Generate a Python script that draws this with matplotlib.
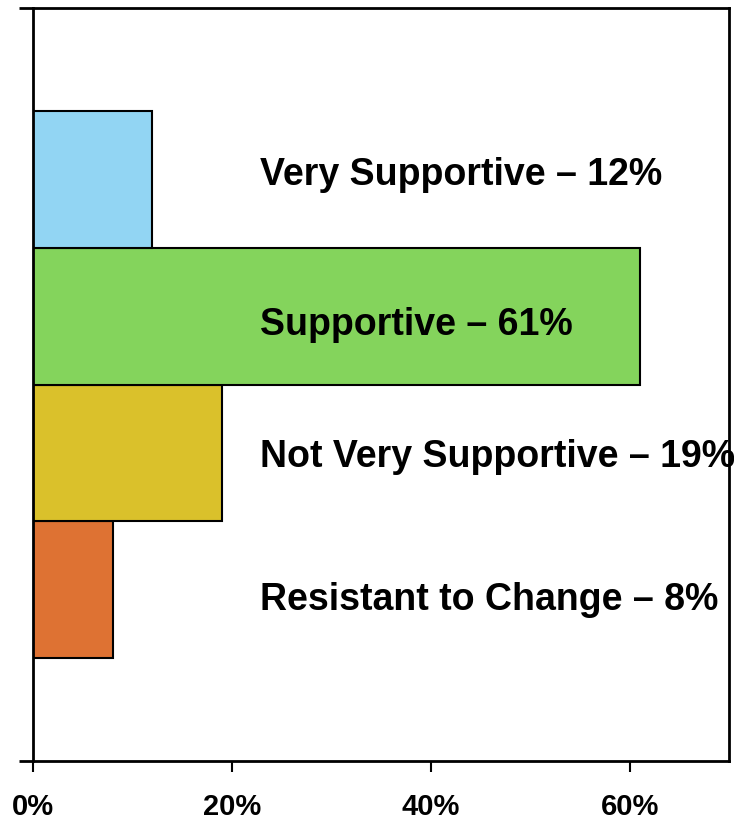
import matplotlib.pyplot as plt
import numpy as np

plt.rcParams['font.family'] = ['Liberation Sans', 'DejaVu Sans']
plt.rcParams['font.weight'] = 'bold'

# data (bottom to top)
categories = ['Resistant to Change', 'Not Very Supportive', 'Supportive', 'Very Supportive']
values = [8, 19, 61, 12]
colors = ['#DE7233', '#DAC12B', '#84D45C', '#92D5F3']
xticks = [0, 20, 40, 60]
xtick_labels = ['0%', '20%', '40%', '60%']

# small vertical nudges of the labels, as in the original
label_dy = [-0.07, -0.02, -0.06, 0.04]

fig = plt.figure(figsize=(7.34, 8.2), dpi=100)
ax = fig.add_axes([33 / 734, 58 / 820, 696 / 734, 753 / 820])

pos = np.arange(len(categories))
ax.barh(pos, values, height=1.0, color=colors, edgecolor='black', linewidth=1.5, zorder=1)

# labels to the right of the bars
for p, c, v, dy in zip(pos, categories, values, label_dy):
    ax.text(22.8, p + dy, f'{c} \u2013 {v}%', ha='left', va='center',
            fontsize=27, fontweight='bold', zorder=2)

ax.set_xlim(0, 70)
ax.set_ylim(-1.25, 4.25)
ax.set_xticks(xticks)
ax.set_xticklabels(xtick_labels, fontsize=21, fontweight='bold')
ax.set_yticks([-1.25, 4.25])
ax.set_yticklabels([])
ax.tick_params(axis='x', direction='out', length=8, width=1.5, pad=14)
ax.tick_params(axis='y', direction='out', length=10, width=2)
for s in ax.spines.values():
    s.set_linewidth(2)
    s.set_zorder(3)

plt.savefig('out.png', dpi=100)
